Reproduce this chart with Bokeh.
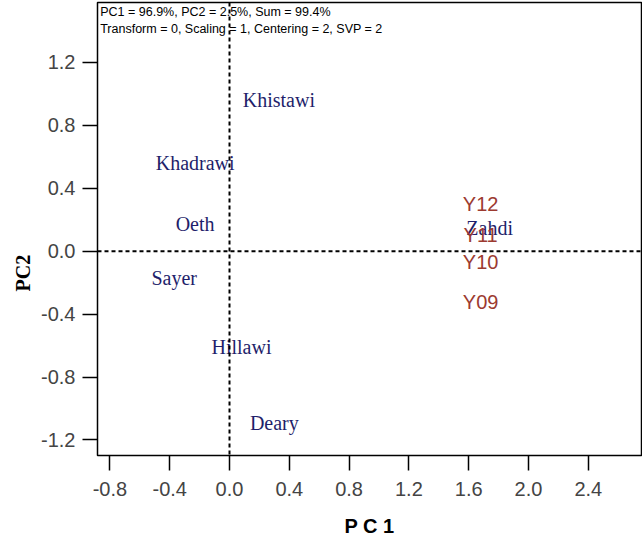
from bokeh.plotting import figure
from bokeh.models import ColumnDataSource, Span, Label, Title, FixedTicker, PrintfTickFormatter, Range1d
from bokeh.core.properties import value
from bokeh.embed import file_html
from bokeh.resources import INLINE

# Cultivar scores (blue labels)
cultivars = ["Khistawi", "Khadrawi", "Oeth", "Sayer", "Hillawi", "Deary", "Zahdi"]
cult_pc1 = [0.33, -0.23, -0.23, -0.37, 0.08, 0.30, 1.74]
cult_pc2 = [0.96, 0.56, 0.17, -0.17, -0.61, -1.09, 0.15]

# Year loadings (red labels)
years = ["Y12", "Y11", "Y10", "Y09"]
year_pc1 = [1.68, 1.68, 1.68, 1.68]
year_pc2 = [0.30, 0.10, -0.07, -0.32]

x_ticks = [-0.8, -0.4, 0.0, 0.4, 0.8, 1.2, 1.6, 2.0, 2.4]
y_ticks = [-1.2, -0.8, -0.4, 0.0, 0.4, 0.8, 1.2]

info_lines = ["PC1 = 96.9%, PC2 = 2.5%, Sum = 99.4%",
              "Transform = 0, Scaling = 1, Centering = 2, SVP = 2"]

p = figure(width=642, height=546, output_backend="svg", toolbar_location=None,
           x_range=Range1d(-0.883, 2.756), y_range=Range1d(-1.299, 1.581),
           min_border_left=97, min_border_right=1, min_border_top=2, min_border_bottom=91)
p.grid.visible = False
p.background_fill_color = "white"
p.border_fill_color = "white"
p.outline_line_color = "black"
p.outline_line_width = 1.5

for ax in (p.xaxis[0], p.yaxis[0]):
    ax.axis_line_color = None
    ax.major_tick_line_color = "black"
    ax.major_tick_line_width = 1.5
    ax.major_tick_out = 15
    ax.major_tick_in = 0
    ax.minor_tick_line_color = None
    ax.major_label_text_font = "Liberation Sans"
    ax.major_label_text_font_size = "20px"
    ax.major_label_text_color = "#444444"
    ax.major_label_text_font_style = "normal"
    ax.formatter = PrintfTickFormatter(format="%.1f")

p.xaxis[0].ticker = FixedTicker(ticks=x_ticks)
p.yaxis[0].ticker = FixedTicker(ticks=y_ticks)
p.xaxis[0].major_label_standoff = 11
p.yaxis[0].major_label_standoff = 7

p.xaxis[0].axis_label = "P C 1"
p.xaxis[0].axis_label_text_font = "Liberation Sans"
p.xaxis[0].axis_label_text_font_style = "bold"
p.xaxis[0].axis_label_text_font_size = "20px"
p.xaxis[0].axis_label_text_color = "black"
p.xaxis[0].axis_label_standoff = 16

# y-axis title (sits below the frame centre in the reference)
p.add_layout(Title(text="PC2", align="left", offset=164,
                   text_font="Liberation Serif", text_font_style="bold",
                   text_font_size="20px", text_color="black"), "left")

p.add_layout(Span(location=0, dimension="height", line_color="black", line_width=2, line_dash="4 3"))
p.add_layout(Span(location=0, dimension="width", line_color="black", line_width=2, line_dash="4 3"))

csrc = ColumnDataSource(dict(x=cult_pc1, y=cult_pc2, t=cultivars))
p.text(x="x", y="y", text="t", source=csrc, text_align="center", text_baseline="middle",
       text_font=value("Liberation Serif"), text_font_size="20px", text_color="#1f1f6b")

ysrc = ColumnDataSource(dict(x=year_pc1, y=year_pc2, t=years))
p.text(x="x", y="y", text="t", source=ysrc, text_align="center", text_baseline="middle",
       text_font=value("Liberation Sans"), text_font_size="20px", text_color="#9c3a30")

info_y = [1.52, 1.415]
for line, yy in zip(info_lines, info_y):
    p.add_layout(Label(x=-0.865, y=yy, text=line, text_font="Liberation Sans",
                       text_font_size="12.5px", text_color="black", text_baseline="middle"))

open("out.html", "w").write(file_html(p, INLINE))
